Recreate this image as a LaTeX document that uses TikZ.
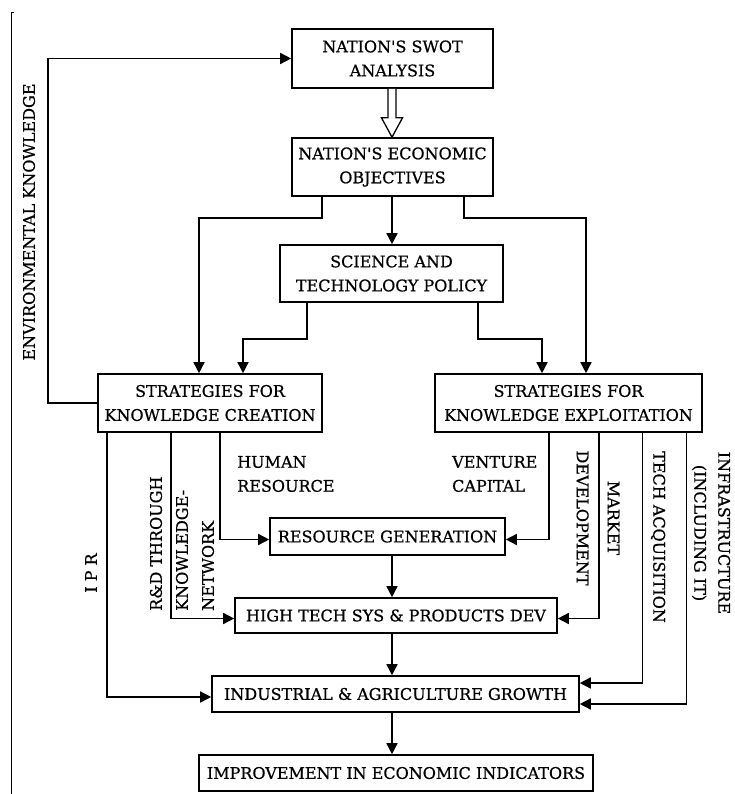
\documentclass[tikz,border=0pt]{standalone}
\usepackage{fontspec}
\newfontfamily\dgfam{DejaVu Serif}[FakeBold=0.7]
\usetikzlibrary{arrows.meta,calc}
\newcommand\dgfont{\dgfam\fontsize{16}{24}\selectfont}
\begin{document}
\begin{tikzpicture}[x=1pt,y=-1pt,
  box/.style={draw,line width=1.6pt,inner sep=0pt,align=center,font=\dgfont},
  arr/.style={line width=1.5pt,-{Triangle[length=11pt,width=11pt]}},
  lbl/.style={inner sep=0pt,font=\dgfont}]
\useasboundingbox[fill=white] (0,0) rectangle (734,794);

% margin rule
\draw[line width=1pt] (14,13) -- (11,13) -- (11,794);

% boxes
\node[box,minimum width=201pt,minimum height=59pt] (swot) at (392.5,58.5) {NATION'S SWOT\\ANALYSIS};
\node[box,minimum width=201pt,minimum height=58pt] (econ) at (392.5,167) {NATION'S ECONOMIC\\OBJECTIVES};
\node[box,minimum width=223pt,minimum height=57pt] (sci) at (391.5,273.5) {SCIENCE AND\\TECHNOLOGY POLICY};
\node[box,minimum width=224pt,minimum height=58pt] (kc) at (210,403) {STRATEGIES FOR\\KNOWLEDGE CREATION};
\node[box,minimum width=267pt,minimum height=58pt] (ke) at (568.5,403) {STRATEGIES FOR\\KNOWLEDGE EXPLOITATION};
\node[box,minimum width=235pt,minimum height=37pt] (rg) at (387.5,536.5) {RESOURCE GENERATION};
\node[box,minimum width=322pt,minimum height=35pt] (hts) at (396,615.5) {HIGH TECH SYS \& PRODUCTS DEV};
\node[box,minimum width=367pt,minimum height=36pt] (iag) at (395.5,694) {INDUSTRIAL \& AGRICULTURE GROWTH};
\node[box,minimum width=394pt,minimum height=36pt] (imp) at (396,773) {IMPROVEMENT IN ECONOMIC INDICATORS};

\coordinate (axis) at (392,0);
\coordinate (envc) at (48,0);

% hollow arrow from the SWOT analysis
\draw[line width=1.3pt,fill=white]
  ($(axis|-swot.south)+(-4,0)$) -- ($(axis|-swot.south)+(-4,29)$)
  -- ($(axis|-swot.south)+(-10.5,29)$) -- (axis|-econ.north)
  -- ($(axis|-swot.south)+(10.5,29)$) -- ($(axis|-swot.south)+(4,29)$)
  -- ($(axis|-swot.south)+(4,0)$);

% feedback
\draw[arr] (kc.west) -| (envc|-swot.west) -- (swot.west);

% objectives and policy
\draw[arr] ([xshift=-70.5pt]econ.south) -- ++(0,21) -| ([xshift=-11pt]kc.north);
\draw[arr] (axis|-econ.south) -- (axis|-sci.north);
\draw[arr] ([xshift=71.5pt]econ.south) -- ++(0,21) -| ([xshift=17.5pt]ke.north);
\draw[arr] ([xshift=-84.5pt]sci.south) -- ++(0,36) -| ([xshift=33pt]kc.north);
\draw[arr] ([xshift=86.5pt]sci.south) -- ++(0,36) -| ([xshift=-26.5pt]ke.north);

% knowledge creation outputs
\draw[arr] ([xshift=-103pt]kc.south) |- ([yshift=-3pt]iag.west);
\draw[arr] ([xshift=-39pt]kc.south) |- ([yshift=-3pt]hts.west);
\draw[arr] ([xshift=10pt]kc.south) |- ([yshift=-3pt]rg.west);

% knowledge exploitation outputs
\draw[arr] ([xshift=-19.5pt]ke.south) |- ([yshift=-3pt]rg.east);
\draw[arr] ([xshift=30.5pt]ke.south) |- ([yshift=-3pt]hts.east);
\draw[arr] ([xshift=74pt]ke.south) |- ([yshift=11pt]iag.east);
\draw[arr] ([xshift=118pt]ke.south) |- ([yshift=-10pt]iag.east);

% main chain
\draw[arr] (axis|-rg.south) -- (axis|-hts.north);
\draw[arr] (axis|-hts.south) -- (axis|-iag.north);
\draw[arr] (axis|-iag.south) -- (axis|-imp.north);

% labels
\node[lbl,rotate=90] (lenv) at (29,222) {ENVIRONMENTAL KNOWLEDGE};
\node[lbl,align=left,anchor=west] (lhum) at (237,474) {HUMAN\\RESOURCE};
\node[lbl,align=left,anchor=west] (lven) at (452,474) {VENTURE\\CAPITAL};
\node[lbl,rotate=90] (lipr) at (91,573) {I P R};
\node[lbl,rotate=90,align=left,anchor=west,font=\dgfam\fontsize{16}{26}\selectfont] (lrd) at (182,611) {R\&D THROUGH\\KNOWLEDGE-\\NETWORK};
\node[lbl,rotate=-90,align=center,font=\dgfam\fontsize{16}{31}\selectfont] (lmkt) at (598,518) {MARKET\\DEVELOPMENT};
\node[lbl,rotate=-90] (ltech) at (658,537) {TECH ACQUISITION};
\node[lbl,rotate=-90,align=center] (linf) at (711,533) {INFRASTRUCTURE\\(INCLUDING IT)};
\end{tikzpicture}
\end{document}
